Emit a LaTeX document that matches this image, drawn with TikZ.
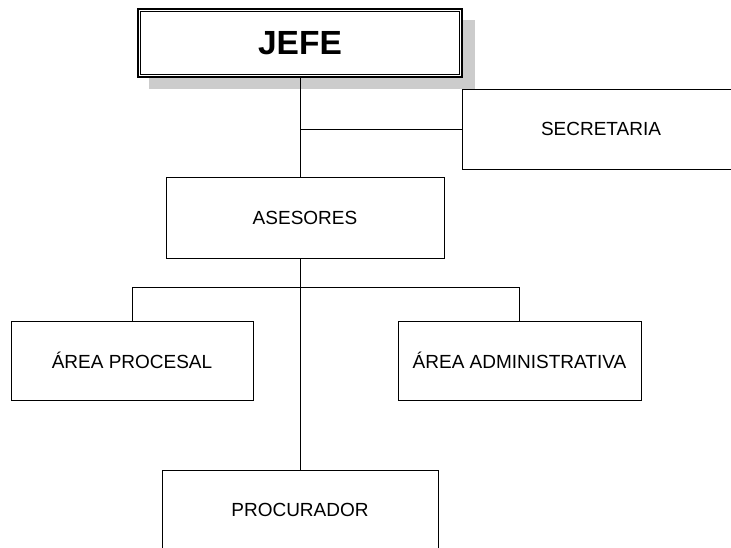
\documentclass[tikz,border=0pt]{standalone}
\usepackage{fontspec}
\usetikzlibrary{calc}
\setmainfont{Liberation Sans}
\begin{document}
\begin{tikzpicture}[x=1pt,y=-1pt,
  unit/.style={draw=black, line width=0.8pt, fill=white, inner sep=0pt,
    font=\fontsize{19}{21}\selectfont},
  chief/.style={draw=black, line width=1.1pt, fill=white, inner sep=0pt,
    font=\fontsize{33.5}{36}\bfseries\selectfont},
  link/.style={draw=black, line width=0.8pt}]
\useasboundingbox[fill=white] (0,0) rectangle (731,547);

% drop shadow of the head box
\fill[black!20] (149,20) rectangle (475,89);

\node[chief, minimum width=324pt, minimum height=68pt] (jefe) at (300,43) {JEFE};
% inner rule of the double frame
\draw[line width=0.6pt] ($(jefe.north west)+(2.8,2.8)$) rectangle ($(jefe.south east)+(-2.8,-2.8)$);

\node[unit, minimum width=278pt, minimum height=80pt] (secr) at (601,129) {SECRETARIA};
\node[unit, minimum width=278pt, minimum height=81pt] (ases) at (305,217.5) {ASESORES};
\node[unit, minimum width=242pt, minimum height=79pt] (ap) at (132,360.5) {ÁREA PROCESAL};
\node[unit, minimum width=243pt, minimum height=79pt] (aa) at (519.5,360.5) {ÁREA ADMINISTRATIVA};
\node[unit, minimum width=276pt, minimum height=80pt] (proc) at (300,510) {PROCURADOR};

\coordinate (bar) at (301,287);

% connectors
\draw[link] (jefe.south) -- (jefe.south |- ases.north);
\draw[link] (jefe.south |- secr.west) -- (secr.west);
\draw[link] (ases.south -| proc.north) -- (proc.north);
\draw[link] (ap.north |- bar) -- (aa.north |- bar);
\draw[link] (ap.north |- bar) -- (ap.north);
\draw[link] (aa.north |- bar) -- (aa.north);
\end{tikzpicture}
\end{document}
